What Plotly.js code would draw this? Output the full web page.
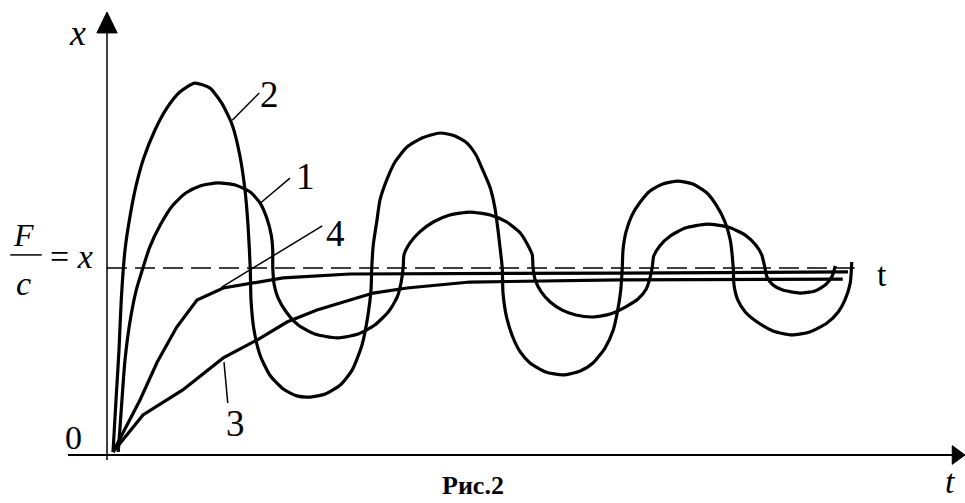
<!DOCTYPE html>
<html>
<head>
<meta charset="utf-8">
<script src="https://cdn.plot.ly/plotly-3.0.1.min.js"></script>
<style>html,body{margin:0;padding:0;background:#fff}#chart{width:965px;height:503px}</style>
</head>
<body>
<div id="chart"></div>
<script>
// Curve 1 (moderate oscillation), x in units of F/c, t in arbitrary time units
const t1 = [0.15,0.19,0.24,0.31,0.39,0.47,0.57,0.71,0.87,1.05,1.24,1.48,1.71,1.91,2.04,2.13,2.19,2.21,2.21,2.23,2.28,2.39,2.55,2.77,3.07,3.35,3.57,3.75,3.87,3.92,3.95,3.96,4.04,4.17,4.35,4.57,4.84,5.11,5.33,5.51,5.61,5.67,5.68,5.71,5.79,5.91,6.07,6.25,6.48,6.71,6.91,7.08,7.19,7.24,7.27,7.29,7.37,7.51,7.71,8.00,8.28,8.51,8.65,8.73,8.77,8.80,8.88,9.01,9.24,9.44,9.59,9.67,9.71];
const x1 = [0.016,0.241,0.508,0.722,0.882,0.989,1.112,1.230,1.332,1.401,1.439,1.455,1.444,1.406,1.348,1.267,1.176,1.096,1.005,0.909,0.840,0.765,0.695,0.647,0.626,0.647,0.695,0.765,0.845,0.920,1.005,1.070,1.134,1.193,1.246,1.283,1.299,1.283,1.246,1.187,1.123,1.070,1.005,0.936,0.872,0.818,0.775,0.749,0.738,0.754,0.791,0.834,0.888,0.947,1.005,1.064,1.118,1.171,1.214,1.235,1.219,1.176,1.123,1.070,1.005,0.952,0.909,0.882,0.866,0.877,0.914,0.957,1.011];

// Curve 2 (large oscillation)
const t2 = [0.08,0.12,0.16,0.19,0.24,0.31,0.39,0.49,0.64,0.80,0.97,1.17,1.37,1.53,1.67,1.77,1.84,1.88,1.91,1.92,1.96,2.04,2.17,2.35,2.53,2.71,2.91,3.11,3.27,3.40,3.48,3.52,3.53,3.55,3.60,3.64,3.73,3.84,4.00,4.20,4.44,4.64,4.80,4.92,5.01,5.11,5.17,5.21,5.24,5.27,5.28,5.33,5.41,5.51,5.64,5.85,6.08,6.31,6.48,6.64,6.75,6.81,6.85,6.87,6.88,6.92,7.00,7.11,7.24,7.41,7.61,7.81,8.00,8.13,8.24,8.31,8.35,8.36,8.41,8.51,8.67,8.88,9.13,9.37,9.60,9.75,9.84,9.91,9.93];
const x2 = [0.016,0.294,0.561,0.829,1.096,1.283,1.444,1.588,1.738,1.856,1.941,1.989,1.963,1.882,1.765,1.604,1.417,1.230,1.000,0.829,0.668,0.535,0.428,0.353,0.316,0.310,0.326,0.374,0.455,0.588,0.749,0.882,1.000,1.123,1.257,1.364,1.471,1.567,1.647,1.695,1.722,1.706,1.668,1.604,1.524,1.428,1.326,1.214,1.112,1.000,0.866,0.733,0.631,0.551,0.492,0.444,0.428,0.449,0.492,0.572,0.668,0.775,0.882,1.000,1.096,1.193,1.283,1.353,1.412,1.449,1.465,1.449,1.401,1.332,1.246,1.150,1.000,0.909,0.829,0.765,0.711,0.663,0.642,0.658,0.706,0.765,0.829,0.920,1.032];

// Curve 3 (slow aperiodic)
const t3 = [0.08,0.48,1.01,1.55,2.00,2.40,2.80,3.24,3.55,4.00,4.44,4.84,6.84,9.81];
const x3 = [0.016,0.214,0.348,0.519,0.615,0.711,0.775,0.829,0.866,0.893,0.909,0.925,0.936,0.941];

// Curve 4 (fast aperiodic)
const t4 = [0.08,0.44,0.67,0.93,1.20,1.55,2.35,3.24,6.84,9.88];
const x4 = [0.016,0.294,0.497,0.684,0.829,0.893,0.947,0.968,0.973,0.979];

// Static level F/c
const tLevel = [0, 9.97];
const xLevel = [1, 1];

const curveLabels = ['1','2','3','4'];

const black = '#000';
const traces = [
  {x: tLevel, y: xLevel, mode: 'lines', line: {color: black, width: 1.6, dash: '20px,8px'}},
  {x: t3, y: x3, mode: 'lines', line: {color: black, width: 3.2}},
  {x: t4, y: x4, mode: 'lines', line: {color: black, width: 3.2}},
  {x: t1, y: x1, mode: 'lines', line: {color: black, width: 3.2, shape: 'spline', smoothing: 0.6}},
  {x: t2, y: x2, mode: 'lines', line: {color: black, width: 3.2, shape: 'spline', smoothing: 0.6}}
];

const serif = 'Liberation Serif';
function ann(text, x, y, size, extra) {
  return Object.assign({text: text, x: x, y: y, xref: 'x', yref: 'y', showarrow: false,
    font: {family: serif, size: size, color: black}, xanchor: 'center', yanchor: 'middle'}, extra || {});
}

const annotations = [
  ann('<i>x</i>', -0.40, 2.257, 36),
  ann(curveLabels[1], 2.17, 1.93, 37),
  ann(curveLabels[0], 2.65, 1.492, 37),
  ann(curveLabels[3], 3.04, 1.187, 37),
  ann(curveLabels[2], 1.71, 0.171, 37),
  ann('t', 10.33, 0.963, 34),
  ann('<i>t</i>', 11.24, -0.251, 34, {yanchor: 'bottom'}),
  ann('0', -0.45, 0.096, 34),
  ann('<b>Рис.2</b>', 4.88, -0.251, 26, {yanchor: 'bottom'}),
  ann('<i>F</i>', -1.12, 1.176, 32),
  ann('<i>c</i>', -1.12, 0.915, 34),
  ann('= <i>x</i>', -0.47, 1.059, 34)
];

const thin = {color: black, width: 1.5};
const shapes = [
  // x (vertical) axis with arrow
  {type: 'line', xref: 'x', yref: 'y', x0: 0, x1: 0, y0: -0.027, y1: 2.27, line: thin},
  {type: 'path', xref: 'x', yref: 'y', path: 'M 0 2.369 L -0.135 2.257 L 0.135 2.257 Z', fillcolor: black, line: {color: black, width: 1}},
  // t (horizontal) axis with arrow
  {type: 'line', xref: 'x', yref: 'y', x0: -0.52, x1: 11.3, y0: 0, y1: 0, line: {color: black, width: 1.8}},
  {type: 'path', xref: 'x', yref: 'y', path: 'M 11.44 0 L 11.27 0.05 L 11.27 -0.05 Z', fillcolor: black, line: {color: black, width: 1}},
  // fraction bar of F/c
  {type: 'line', xref: 'x', yref: 'y', x0: -1.29, x1: -0.87, y0: 1.07, y1: 1.07, line: {color: black, width: 1.5}},
  // leader lines to curve numbers
  {type: 'line', xref: 'x', yref: 'y', x0: 1.67, y0: 1.79, x1: 2.03, y1: 1.936, line: thin},
  {type: 'line', xref: 'x', yref: 'y', x0: 2.03, y0: 1.342, x1: 2.44, y1: 1.481, line: thin},
  {type: 'line', xref: 'x', yref: 'y', x0: 1.53, y0: 0.898, x1: 2.87, y1: 1.225, line: thin},
  {type: 'line', xref: 'x', yref: 'y', x0: 1.56, y0: 0.497, x1: 1.61, y1: 0.278, line: thin}
];

const layout = {
  width: 965, height: 503,
  margin: {l: 0, r: 0, t: 0, b: 0},
  paper_bgcolor: '#fff', plot_bgcolor: '#fff',
  showlegend: false,
  xaxis: {range: [-1.4267, 11.44], visible: false, fixedrange: true},
  yaxis: {range: [-0.2567, 2.4332], visible: false, fixedrange: true},
  annotations: annotations,
  shapes: shapes
};

Plotly.newPlot('chart', traces, layout, {staticPlot: true, displayModeBar: false});
</script>
</body>
</html>
